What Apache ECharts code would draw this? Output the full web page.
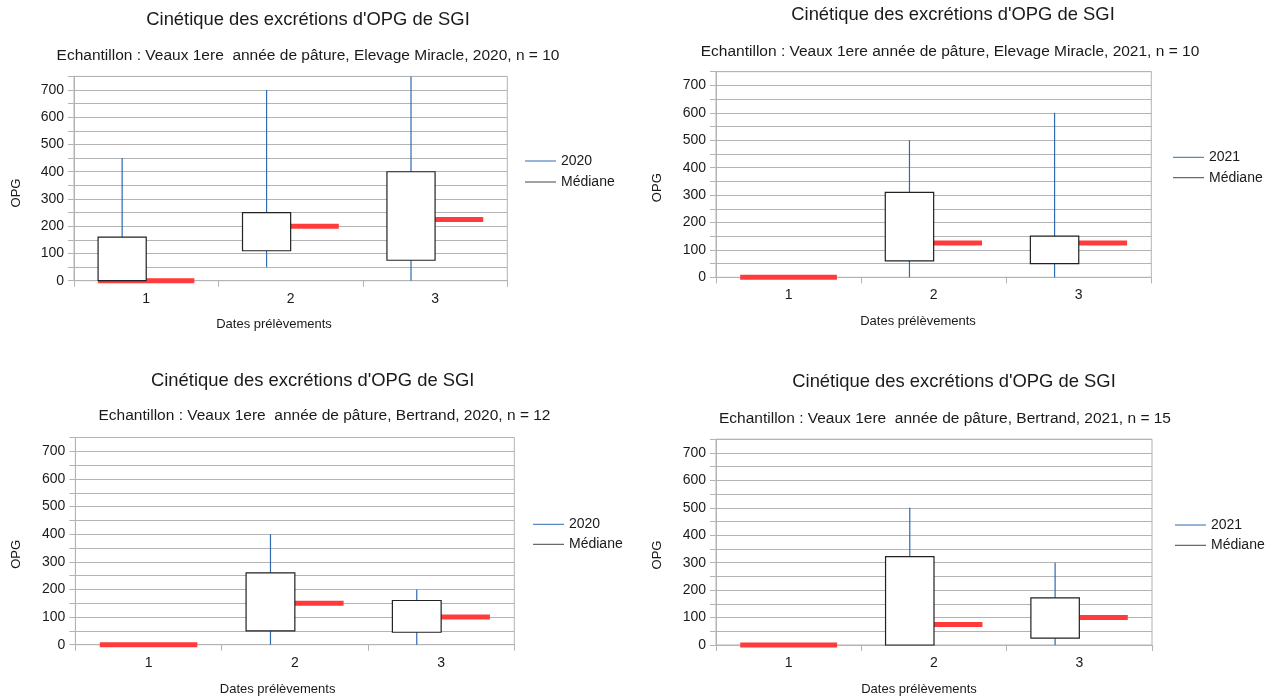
<!DOCTYPE html>
<html>
<head>
<meta charset="utf-8">
<script src="https://cdn.jsdelivr.net/npm/echarts@6/dist/echarts.min.js"></script>
<style>
html,body{margin:0;padding:0;background:#fff;}
#chart{width:1273px;height:700px;}
</style>
</head>
<body>
<div id="chart"></div>
<script>
// ---- DATA ----
const categories = ['1', '2', '3'];

const chartTitle = "Cinétique des excrétions d'OPG de SGI";
const subtitles = [
  'Echantillon : Veaux 1ere  année de pâture, Elevage Miracle, 2020, n = 10',
  'Echantillon : Veaux 1ere année de pâture, Elevage Miracle, 2021, n = 10',
  'Echantillon : Veaux 1ere  année de pâture, Bertrand, 2020, n = 12',
  'Echantillon : Veaux 1ere  année de pâture, Bertrand, 2021, n = 15'
];
const seriesNames = ['2020', '2021', '2020', '2021'];
const medianName = 'Médiane';
const xAxisName = 'Dates prélèvements';
const yAxisName = 'OPG';

// Elevage Miracle 2020
const miracle2020Low = [0, 50, 0];
const miracle2020Q1 = [0, 110, 75];
const miracle2020Q3 = [160, 250, 400];
const miracle2020High = [450, 700, 750];
const miracle2020Median = [0, 200, 225];

// Elevage Miracle 2021
const miracle2021Low = [0, 0, 0];
const miracle2021Q1 = [0, 60, 50];
const miracle2021Q3 = [0, 310, 150];
const miracle2021High = [0, 500, 600];
const miracle2021Median = [0, 125, 125];

// Bertrand 2020
const bertrand2020Low = [0, 0, 0];
const bertrand2020Q1 = [0, 50, 45];
const bertrand2020Q3 = [0, 260, 160];
const bertrand2020High = [0, 400, 200];
const bertrand2020Median = [0, 150, 100];

// Bertrand 2021
const bertrand2021Low = [0, 0, 0];
const bertrand2021Q1 = [0, 0, 25];
const bertrand2021Q3 = [0, 322, 172];
const bertrand2021High = [0, 500, 300];
const bertrand2021Median = [0, 75, 100];

const yMin = 0, yMax = 750, yInterval = 50;

// ---- LAYOUT ----
const FONT = '"Liberation Sans", Arial, sans-serif';
const TXT = '#1a1a1a';
const GRIDC = '#b3b3b3';
const BLUE = '#2f6ab3';
const RED = '#ff3b3b';

const panels = [
  { low: miracle2020Low, q1: miracle2020Q1, q3: miracle2020Q3, high: miracle2020High, med: miracle2020Median,
    grid: { left: 74, top: 76.4, width: 433.3, height: 204.3 },
    title: [308, 20], sub: [308, 56], xname: [274, 324], yname: [16.5, 193],
    legend: { left: 525, top: 154, gap: 7 } },
  { low: miracle2021Low, q1: miracle2021Q1, q3: miracle2021Q3, high: miracle2021High, med: miracle2021Median,
    grid: { left: 716, top: 71.7, width: 435.3, height: 205.6 },
    title: [953, 15], sub: [950, 51.7], xname: [918, 321.7], yname: [657, 187.7],
    legend: { left: 1173, top: 150.3, gap: 6.4 } },
  { low: bertrand2020Low, q1: bertrand2020Q1, q3: bertrand2020Q3, high: bertrand2020High, med: bertrand2020Median,
    grid: { left: 75.4, top: 437.5, width: 438.9, height: 207.2 },
    title: [312.7, 380.7], sub: [324.5, 415.7], xname: [277.6, 689.3], yname: [16.5, 554.3],
    legend: { left: 533, top: 517.3, gap: 6 } },
  { low: bertrand2021Low, q1: bertrand2021Q1, q3: bertrand2021Q3, high: bertrand2021High, med: bertrand2021Median,
    grid: { left: 716, top: 439.2, width: 436, height: 205.8 },
    title: [954, 382.3], sub: [945, 419], xname: [919, 689.3], yname: [657, 555],
    legend: { left: 1175, top: 518, gap: 6.3 } }
];

function renderBox(params, api) {
  const x = api.value(0);
  const low = api.value(1), q1 = api.value(2), q3 = api.value(3), high = api.value(4);
  const catW = api.size([1, 0])[0];
  const bw = catW / 3;
  const c = api.coord([x, 0]);
  const cx = c[0] - bw / 2;
  const children = [];
  if (high !== low) {
    const yl = api.coord([x, low])[1];
    const yh = api.coord([x, high])[1];
    children.push({ type: 'line', shape: { x1: cx, y1: yl, x2: cx, y2: yh },
      style: { stroke: BLUE, lineWidth: 1.2, fill: null } });
  }
  if (q3 !== q1) {
    const y1 = api.coord([x, q1])[1];
    const y3 = api.coord([x, q3])[1];
    children.push({ type: 'rect', shape: { x: c[0] - bw, y: y3, width: bw, height: y1 - y3 },
      style: { fill: '#ffffff', stroke: '#222222', lineWidth: 1.2 } });
  }
  return { type: 'group', children: children };
}

function renderMedian(params, api) {
  const x = api.value(0);
  const m = api.value(1);
  const catW = api.size([1, 0])[0];
  const bw = catW / 3;
  const p = api.coord([x, m]);
  return { type: 'line', shape: { x1: p[0] - bw, y1: p[1], x2: p[0] + bw, y2: p[1] },
    style: { stroke: RED, lineWidth: 5, lineCap: 'butt' } };
}

const option = {
  animation: false,
  backgroundColor: '#ffffff',
  textStyle: { fontFamily: FONT },
  grid: panels.map(p => ({
    left: p.grid.left, top: p.grid.top, width: p.grid.width, height: p.grid.height,
    show: true, borderColor: GRIDC, borderWidth: 1, backgroundColor: 'transparent', containLabel: false
  })),
  xAxis: panels.map((p, i) => ({
    type: 'category', gridIndex: i, data: categories, boundaryGap: true,
    axisLine: { show: true, onZero: false, lineStyle: { color: GRIDC, width: 1 } },
    axisTick: { show: true, length: 6, lineStyle: { color: GRIDC } },
    axisLabel: { fontSize: 14, color: TXT, margin: 11, fontFamily: FONT },
    splitLine: { show: false }
  })),
  yAxis: panels.map((p, i) => ({
    type: 'value', gridIndex: i, min: yMin, max: yMax, interval: yInterval,
    axisLine: { show: true, lineStyle: { color: GRIDC, width: 1 } },
    axisTick: { show: true, length: 6, lineStyle: { color: GRIDC } },
    axisLabel: { fontSize: 14, color: TXT, margin: 10, fontFamily: FONT,
      formatter: v => (v % 100 === 0 ? String(v) : '') },
    splitLine: { show: true, lineStyle: { color: GRIDC, width: 1 } }
  })),
  legend: panels.map((p, i) => ({
    orient: 'vertical', left: p.legend.left, top: p.legend.top, itemGap: p.legend.gap,
    padding: 0, itemWidth: 31, itemHeight: 1, icon: 'rect', selectedMode: false,
    data: [seriesNames[i], medianName],
    textStyle: { fontSize: 14, color: TXT, fontFamily: FONT }
  })),
  series: [],
  graphic: { elements: [] }
};

panels.forEach((p, i) => {
  option.series.push({
    type: 'custom', name: medianName, xAxisIndex: i, yAxisIndex: i, z: 2,
    itemStyle: { color: '#444444' },
    data: categories.map((c, j) => [j, p.med[j]]),
    encode: { x: 0, y: 1 },
    renderItem: renderMedian
  });
  option.series.push({
    type: 'custom', name: seriesNames[i], xAxisIndex: i, yAxisIndex: i, z: 3,
    itemStyle: { color: BLUE },
    data: categories.map((c, j) => [j, p.low[j], p.q1[j], p.q3[j], p.high[j]]),
    encode: { x: 0, y: [1, 2, 3, 4] },
    renderItem: renderBox
  });
  const els = option.graphic.elements;
  els.push({ type: 'text', x: p.title[0], y: p.title[1], silent: true,
    style: { text: chartTitle, fill: TXT, font: '18.4px ' + FONT, align: 'center', verticalAlign: 'middle' } });
  els.push({ type: 'text', x: p.sub[0], y: p.sub[1], silent: true,
    style: { text: subtitles[i], fill: TXT, font: '15.5px ' + FONT, align: 'center', verticalAlign: 'middle' } });
  els.push({ type: 'text', x: p.xname[0], y: p.xname[1], silent: true,
    style: { text: xAxisName, fill: TXT, font: '13px ' + FONT, align: 'center', verticalAlign: 'middle' } });
  els.push({ type: 'text', x: p.yname[0], y: p.yname[1], rotation: Math.PI / 2, silent: true,
    style: { text: yAxisName, fill: TXT, font: '13px ' + FONT, align: 'center', verticalAlign: 'middle' } });
});

const chart = echarts.init(document.getElementById('chart'), null, { renderer: 'canvas' });
chart.setOption(option);
</script>
</body>
</html>
